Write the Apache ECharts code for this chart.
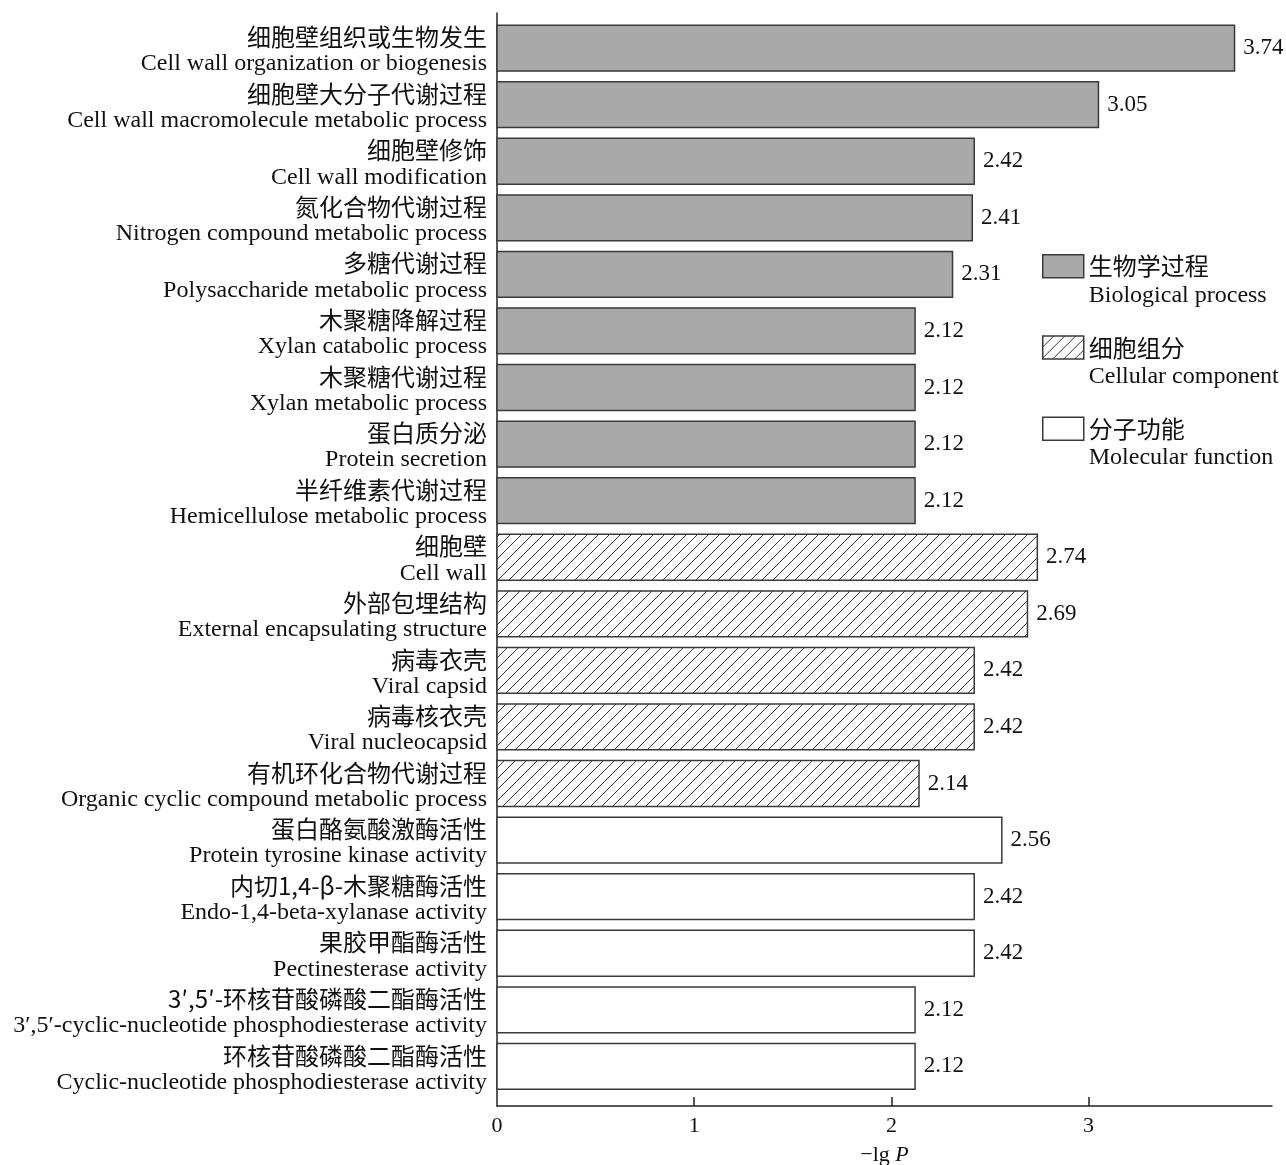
<!DOCTYPE html>
<html><head><meta charset="utf-8">
<script src="https://cdn.jsdelivr.net/npm/echarts@6/dist/echarts.min.js"></script>
<style>html,body{margin:0;padding:0;background:#fff}#c{width:1286px;height:1165px}</style>
</head><body><div id="c"></div>
<script>
const cnNames = ['细胞壁组织或生物发生','细胞壁大分子代谢过程','细胞壁修饰','氮化合物代谢过程','多糖代谢过程','木聚糖降解过程','木聚糖代谢过程','蛋白质分泌','半纤维素代谢过程','细胞壁','外部包埋结构','病毒衣壳','病毒核衣壳','有机环化合物代谢过程','蛋白酪氨酸激酶活性','内切1,4-β-木聚糖酶活性','果胶甲酯酶活性','3′,5′-环核苷酸磷酸二酯酶活性','环核苷酸磷酸二酯酶活性'];
const enNames = ['Cell wall organization or biogenesis','Cell wall macromolecule metabolic process','Cell wall modification','Nitrogen compound metabolic process','Polysaccharide metabolic process','Xylan catabolic process','Xylan metabolic process','Protein secretion','Hemicellulose metabolic process','Cell wall','External encapsulating structure','Viral capsid','Viral nucleocapsid','Organic cyclic compound metabolic process','Protein tyrosine kinase activity','Endo-1,4-beta-xylanase activity','Pectinesterase activity','3′,5′-cyclic-nucleotide phosphodiesterase activity','Cyclic-nucleotide phosphodiesterase activity'];
const values = [3.74,3.05,2.42,2.41,2.31,2.12,2.12,2.12,2.12,2.74,2.69,2.42,2.42,2.14,2.56,2.42,2.42,2.12,2.12];
const groups = [0,0,0,0,0,0,0,0,0,1,1,1,1,1,2,2,2,2,2];
const groupCn = ['生物学过程','细胞组分','分子功能'];
const groupEn = ['Biological process','Cellular component','Molecular function'];
const xTicks = [0,1,2,3];

const SERIF = "'Liberation Serif','Noto Sans CJK SC',serif";
const CJK = "'Noto Sans CJK SC','Liberation Serif',sans-serif";

function hatch(){
  const s=11;const c=document.createElement('canvas');c.width=s;c.height=s;
  const g=c.getContext('2d');g.fillStyle='#fff';g.fillRect(0,0,s,s);
  g.strokeStyle='#333';g.lineWidth=1;g.beginPath();
  g.moveTo(0,s);g.lineTo(s,0);g.moveTo(-2,2);g.lineTo(2,-2);g.moveTo(s-2,s+2);g.lineTo(s+2,s-2);g.stroke();
  return c;
}
const fills = ['#a9a9a9',{image:hatch(),repeat:'repeat'},'#ffffff'];

const chart = echarts.init(document.getElementById('c'));
const idx = values.map((v,i)=>i);

function renderItem(params, api){
  const v = api.value(0), i = api.value(1);
  const p0 = api.coord([0,i]), p1 = api.coord([v,i]);
  const h = api.size([0,1])[1]*0.81;
  const st = api.style();
  return {
    type:'rect',
    shape:{x:p0[0], y:p0[1]-h/2, width:p1[0]-p0[0], height:h},
    style:{fill:st.fill, stroke:'#3a3a3a', lineWidth:1.5},
    textContent:{style:{text:v.toFixed(2), fontSize:23, fontFamily:SERIF, fill:'#111'}},
    textConfig:{position:'right', distance:8}
  };
}

const series = [0,1,2].map(g=>({
  type:'custom',
  name:String(g),
  renderItem,
  encode:{x:0,y:1},
  itemStyle:{color:fills[g], borderColor:'#3a3a3a', borderWidth:1.5},
  data: idx.filter(i=>groups[i]===g).map(i=>[values[i], i])
}));

chart.setOption({
  animation:false,
  backgroundColor:'#fff',
  grid:{left:497, right:14, top:13, bottom:59, containLabel:false, outerBoundsMode:'none'},
  xAxis:{
    type:'value', min:0, max:3.93, interval:1,
    axisLine:{onZero:false, lineStyle:{color:'#222', width:1.5}},
    axisTick:{show:true, inside:true, length:9, lineStyle:{color:'#222', width:1.5}, customValues:[1,2,3]},
    axisLabel:{customValues:xTicks, fontSize:22, fontFamily:SERIF, color:'#111', margin:9},
    splitLine:{show:false},
    name:'{a|−lg }{b|P}', nameLocation:'middle', nameGap:38,
    nameTextStyle:{rich:{a:{fontSize:22,fontFamily:SERIF,color:'#111'},b:{fontSize:22,fontFamily:SERIF,fontStyle:'italic',color:'#111'}}}
  },
  yAxis:{
    type:'value', inverse:true, min:-0.62, max:18.70,
    axisLine:{show:true, onZero:false, lineStyle:{color:'#222', width:1.5}},
    axisTick:{show:false},
    splitLine:{show:false},
    axisLabel:{
      customValues: idx, margin:10,
      formatter:(v)=>'{cn|'+cnNames[Math.round(v)]+'}\n{en|'+enNames[Math.round(v)]+'}',
      padding:[5,0,0,0],
      rich:{
        cn:{fontSize:24, fontFamily:CJK, color:'#111', lineHeight:27, align:'right'},
        en:{fontSize:24, fontFamily:SERIF, color:'#111', lineHeight:27, align:'right'}
      }
    }
  },
  legend:{
    orient:'vertical', left:1037, top:249, itemWidth:41, itemHeight:23, itemGap:28,
    icon:'rect',
    data:['0','1','2'],
    formatter:(n)=>'{cn|'+groupCn[+n]+'}\n{en|'+groupEn[+n]+'}',
    textStyle:{padding:[29,0,0,0], rich:{
      cn:{fontSize:24, fontFamily:CJK, color:'#111', lineHeight:29},
      en:{fontSize:24, fontFamily:SERIF, color:'#111', lineHeight:29}
    }},
    itemStyle:{borderColor:'#3a3a3a', borderWidth:1.5},
    selectedMode:false
  },
  series
});
</script></body></html>
